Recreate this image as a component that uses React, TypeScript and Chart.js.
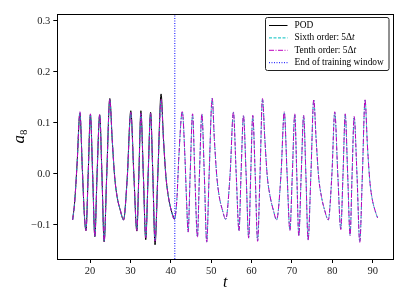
import React, { useEffect, useRef } from "react";
import { Chart, registerables } from "chart.js";
Chart.register(...registerables);

// ---- data ----
const podT = [15.7, 16.2, 16.8, 17.5, 18.1, 18.6, 19.0, 19.55, 20.1, 20.65, 21.2, 21.75, 22.4, 22.95, 23.5, 24.15, 24.9, 25.5, 26.1, 26.7, 27.5, 28.3, 29.2, 30.1, 30.85, 31.6, 32.1, 32.6, 33.2, 33.8, 34.4, 35.0, 35.55, 36.1, 36.8, 37.6, 38.2, 38.8, 39.4, 40.1, 40.9];
const podA = [-0.090, -0.055, 0.020, 0.119, 0.010, -0.080, -0.111, 0.000, 0.116, 0.000, -0.123, 0.000, 0.116, 0.000, -0.133, 0.000, 0.148, 0.067, -0.005, -0.044, -0.071, -0.090, -0.010, 0.124, 0.000, -0.112, 0.000, 0.124, 0.000, -0.129, 0.000, 0.121, 0.000, -0.139, 0.000, 0.157, 0.067, -0.005, -0.044, -0.071, -0.089];

const predT = [
  15.7, 16.2, 16.8, 17.5, 18.1, 18.6, 19.0, 19.55, 20.1, 20.65, 21.2, 21.75, 22.4, 22.95, 23.5, 24.15, 24.9, 25.5, 26.1, 26.7, 27.5, 28.3, 29.2, 30.1, 30.85, 31.6, 32.1, 32.6, 33.2, 33.8, 34.4, 35.0, 35.55, 36.1, 36.8, 37.6, 38.2, 38.8, 39.4, 40.1, 40.9,
  41.5, 42.0, 42.85, 43.5, 43.9, 44.3, 44.8, 45.4, 45.95, 46.6, 47.1, 47.7, 48.3, 48.9, 49.5, 50.25, 50.8, 51.4, 52.0, 52.8, 53.6,
  54.7, 55.5, 56.2, 56.9, 57.4, 58.0, 58.65, 59.3, 59.8, 60.3, 60.9, 61.5, 62.1, 62.7, 63.3, 63.9, 64.6, 65.4, 66.2,
  67.3, 68.1, 68.8, 69.5, 70.1, 70.7, 71.2, 71.7, 72.3, 72.9, 73.45, 74.0, 74.7, 75.4, 76.0, 76.6, 77.3, 78.1, 79.0,
  79.9, 80.6, 81.35, 82.1, 82.65, 83.2, 83.8, 84.4, 84.9, 85.4, 86.1, 86.8, 87.45, 88.1, 88.7, 89.3, 89.9, 90.6, 91.2,
];
const sixthA = [
  -0.090, -0.055, 0.020, 0.121, 0.010, -0.080, -0.110, 0.000, 0.117, 0.000, -0.122, 0.000, 0.115, 0.000, -0.132, 0.000, 0.146, 0.067, -0.005, -0.044, -0.071, -0.090, -0.010, 0.120, 0.000, -0.110, 0.000, 0.118, 0.000, -0.124, 0.000, 0.118, 0.000, -0.131, 0.000, 0.145, 0.067, -0.005, -0.044, -0.071, -0.089,
  -0.051, 0.034, 0.122, 0.034, -0.051, -0.113, 0.000, 0.117, 0.000, -0.123, 0.000, 0.117, 0.000, -0.133, 0.000, 0.148, 0.067, -0.005, -0.044, -0.071, -0.089,
  0.001, 0.121, 0.000, -0.111, 0.000, 0.114, 0.000, -0.125, 0.000, 0.114, 0.000, -0.131, 0.000, 0.147, 0.067, -0.005, -0.044, -0.071, -0.090,
  0.000, 0.121, 0.000, -0.110, 0.000, 0.117, 0.000, -0.121, 0.000, 0.114, 0.000, -0.129, 0.000, 0.145, 0.067, -0.005, -0.044, -0.071, -0.090,
  0.000, 0.121, 0.000, -0.108, 0.000, 0.117, 0.000, -0.120, 0.000, 0.112, 0.000, -0.133, 0.000, 0.145, 0.055, -0.015, -0.050, -0.072, -0.086,
];
const tenthA = [
  -0.090, -0.055, 0.020, 0.122, 0.010, -0.080, -0.111, 0.000, 0.118, 0.000, -0.123, 0.000, 0.117, 0.000, -0.133, 0.000, 0.147, 0.067, -0.005, -0.044, -0.071, -0.090, -0.010, 0.121, 0.000, -0.111, 0.000, 0.119, 0.000, -0.125, 0.000, 0.119, 0.000, -0.132, 0.000, 0.146, 0.067, -0.005, -0.044, -0.071, -0.089,
  -0.051, 0.034, 0.123, 0.034, -0.051, -0.114, 0.000, 0.118, 0.000, -0.124, 0.000, 0.118, 0.000, -0.134, 0.000, 0.149, 0.067, -0.005, -0.044, -0.071, -0.089,
  0.001, 0.122, 0.000, -0.112, 0.000, 0.115, 0.000, -0.126, 0.000, 0.115, 0.000, -0.132, 0.000, 0.148, 0.067, -0.005, -0.044, -0.071, -0.090,
  0.000, 0.122, 0.000, -0.111, 0.000, 0.118, 0.000, -0.122, 0.000, 0.115, 0.000, -0.130, 0.000, 0.146, 0.067, -0.005, -0.044, -0.071, -0.090,
  0.000, 0.122, 0.000, -0.109, 0.000, 0.118, 0.000, -0.121, 0.000, 0.113, 0.000, -0.134, 0.000, 0.146, 0.055, -0.015, -0.050, -0.072, -0.086,
];
const trainEnd = 41;
const xTicks = [20, 30, 40, 50, 60, 70, 80, 90];
const yTicks = [-0.1, 0.0, 0.1, 0.2, 0.3];
const xMin = 11.9, xMax = 95.1, yMin = -0.1667, yMax = 0.3137;
const legendLabels = ["POD", "Sixth order: 5\u0394", "Tenth order: 5\u0394", "End of training window"];

const SERIF = '"Liberation Serif", "DejaVu Serif", serif';
const CYAN = "#00bfbf";
const MAGENTA = "#bf00bf";
const BLUE = "#0000ff";

const decorPlugin = {
  id: "decor",
  afterDraw(chart: any) {
    const { ctx, chartArea: a } = chart;
    ctx.save();
    ctx.setLineDash([]);
    ctx.strokeStyle = "#000";
    ctx.lineWidth = 1;
    ctx.strokeRect(Math.round(a.left) + 0.5, Math.round(a.top) + 0.5, Math.round(a.right - a.left), Math.round(a.bottom - a.top));

    // axis titles
    ctx.fillStyle = "#000";
    ctx.font = `italic 16px ${SERIF}`;
    ctx.textAlign = "center";
    ctx.textBaseline = "alphabetic";
    ctx.fillText("t", (a.left + a.right) / 2, 287);

    ctx.save();
    ctx.translate(23.5, (a.top + a.bottom) / 2);
    ctx.rotate(-Math.PI / 2);
    ctx.textAlign = "left";
    ctx.font = `italic 17px ${SERIF}`;
    const aw = ctx.measureText("a").width;
    ctx.font = `11px ${SERIF}`;
    const sw = ctx.measureText("8").width;
    const start = -(aw + sw) / 2;
    ctx.font = `italic 17px ${SERIF}`;
    ctx.fillText("a", start, 0);
    ctx.font = `11px ${SERIF}`;
    ctx.fillText("8", start + aw, 3);
    ctx.restore();

    // legend
    const bx = 265.5, by = 17.5, bw = 123.5, bh = 53;
    ctx.beginPath();
    const r = 2;
    ctx.moveTo(bx + r, by);
    ctx.lineTo(bx + bw - r, by);
    ctx.quadraticCurveTo(bx + bw, by, bx + bw, by + r);
    ctx.lineTo(bx + bw, by + bh - r);
    ctx.quadraticCurveTo(bx + bw, by + bh, bx + bw - r, by + bh);
    ctx.lineTo(bx + r, by + bh);
    ctx.quadraticCurveTo(bx, by + bh, bx, by + bh - r);
    ctx.lineTo(bx, by + r);
    ctx.quadraticCurveTo(bx, by, bx + r, by);
    ctx.closePath();
    ctx.fillStyle = "rgba(255,255,255,0.85)";
    ctx.fill();
    ctx.strokeStyle = "#222";
    ctx.lineWidth = 1;
    ctx.stroke();

    const styles = [
      { c: "#000", d: [] as number[] },
      { c: CYAN, d: [3, 1.5] },
      { c: MAGENTA, d: [5, 1.5, 1, 1.5] },
      { c: BLUE, d: [1, 1.5] },
    ];
    const ys = [25, 37.4, 49.8, 62.2];
    ctx.textBaseline = "middle";
    ctx.textAlign = "left";
    legendLabels.forEach((lab, i) => {
      const y = ys[i];
      ctx.beginPath();
      ctx.setLineDash(styles[i].d);
      ctx.strokeStyle = styles[i].c;
      ctx.lineWidth = 1;
      ctx.moveTo(269, y + 0.5);
      ctx.lineTo(287.5, y + 0.5);
      ctx.stroke();
      ctx.setLineDash([]);
      ctx.fillStyle = "#000";
      ctx.font = `9.4px ${SERIF}`;
      ctx.fillText(lab, 294.5, y + 0.5);
      if (i === 1 || i === 2) {
        const w = ctx.measureText(lab).width;
        ctx.font = `italic 9.4px ${SERIF}`;
        ctx.fillText("t", 294.5 + w, y + 0.5);
      }
    });
    ctx.restore();
  },
};

export default function App() {
  const ref = useRef<HTMLCanvasElement | null>(null);
  useEffect(() => {
    if (!ref.current) return;
    const pod = podT.map((t, i) => ({ x: t, y: podA[i] }));
    const six = predT.map((t, i) => ({ x: t, y: sixthA[i] }));
    const ten = predT.map((t, i) => ({ x: t, y: tenthA[i] }));
    const vline = [
      { x: trainEnd, y: yMin },
      { x: trainEnd, y: yMax },
    ];
    const common = { pointRadius: 0, borderWidth: 1, cubicInterpolationMode: "monotone" as const, fill: false };
    const chart = new Chart(ref.current, {
      type: "line",
      data: {
        datasets: [
          { label: "POD", data: pod, borderColor: "#000", order: 4, ...common },
          { label: "Sixth order", data: six, borderColor: CYAN, borderDash: [3, 1.5], order: 3, ...common },
          { label: "Tenth order", data: ten, borderColor: MAGENTA, borderDash: [5, 1.5, 1, 1.5], order: 2, ...common },
          { label: "End of training window", data: vline, borderColor: BLUE, borderDash: [1, 1.5], order: 1, pointRadius: 0, borderWidth: 1, tension: 0 },
        ],
      },
      options: {
        animation: false,
        responsive: false,
        devicePixelRatio: 1,
        layout: { padding: { top: 14, right: 13.7, left: 0, bottom: 0 } },
        plugins: { legend: { display: false }, tooltip: { enabled: false } },
        scales: {
          x: {
            type: "linear",
            min: xMin,
            max: xMax,
            border: { display: false },
            grid: { drawOnChartArea: false, drawTicks: true, tickLength: 4, tickColor: "#000" },
            afterBuildTicks: (s: any) => {
              s.ticks = xTicks.map((v) => ({ value: v }));
            },
            afterFit: (s: any) => {
              s.height = 47;
            },
            ticks: {
              autoSkip: false,
              maxRotation: 0,
              padding: 2,
              color: "#222",
              font: { family: SERIF, size: 10.5 },
              callback: (v: any) => String(v),
            },
          },
          y: {
            type: "linear",
            min: yMin,
            max: yMax,
            border: { display: false },
            grid: { drawOnChartArea: false, drawTicks: true, tickLength: 4, tickColor: "#000" },
            afterBuildTicks: (s: any) => {
              s.ticks = yTicks.map((v) => ({ value: v }));
            },
            afterFit: (s: any) => {
              s.width = 57.3;
            },
            ticks: {
              autoSkip: false,
              padding: 3,
              color: "#222",
              font: { family: SERIF, size: 10.5 },
              callback: (v: any) => {
                const n = Number(v);
                return n < -1e-9 ? "\u2212" + Math.abs(n).toFixed(1) : Math.abs(n).toFixed(1);
              },
            },
          },
        },
      },
      plugins: [decorPlugin],
    });
    return () => chart.destroy();
  }, []);
  return (
    <div style={{ position: "fixed", left: 0, top: 0, width: 407, height: 306, background: "#fff" }}>
      <canvas ref={ref} width={407} height={306} style={{ width: 407, height: 306, display: "block" }} />
    </div>
  );
}
